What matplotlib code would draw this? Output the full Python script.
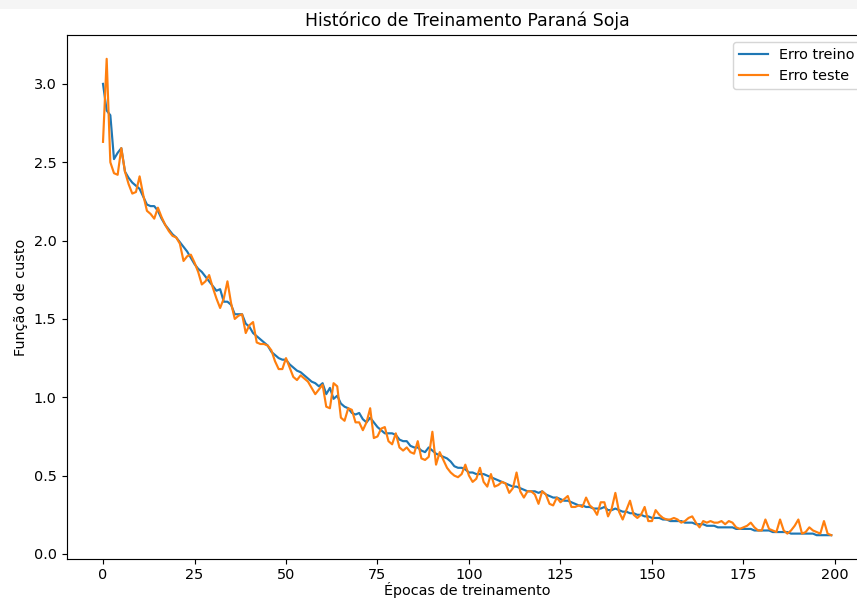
import numpy as np
import matplotlib
matplotlib.use('Agg')
import matplotlib.pyplot as plt
from matplotlib.patches import Rectangle

# Histórico de treinamento
erro_treino = [
    3.00, 2.83, 2.80, 2.52, 2.56, 2.59, 2.44, 2.40, 2.37, 2.35,
    2.33, 2.28, 2.23, 2.22, 2.22, 2.19, 2.14, 2.10, 2.07, 2.04,
    2.02, 1.99, 1.96, 1.93, 1.89, 1.85, 1.82, 1.80, 1.77, 1.74,
    1.71, 1.68, 1.69, 1.61, 1.61, 1.59, 1.53, 1.53, 1.53, 1.47,
    1.45, 1.41, 1.39, 1.37, 1.35, 1.33, 1.29, 1.27, 1.25, 1.24,
    1.24, 1.21, 1.19, 1.17, 1.16, 1.14, 1.12, 1.10, 1.09, 1.07,
    1.09, 1.02, 1.06, 0.99, 1.01, 0.96, 0.94, 0.93, 0.90, 0.89,
    0.90, 0.86, 0.84, 0.87, 0.84, 0.81, 0.79, 0.77, 0.77, 0.77,
    0.76, 0.73, 0.72, 0.72, 0.69, 0.68, 0.68, 0.66, 0.65, 0.68,
    0.66, 0.64, 0.63, 0.62, 0.61, 0.59, 0.56, 0.55, 0.55, 0.54,
    0.52, 0.52, 0.51, 0.51, 0.51, 0.50, 0.49, 0.48, 0.47, 0.46,
    0.45, 0.44, 0.43, 0.43, 0.42, 0.41, 0.40, 0.40, 0.40, 0.39,
    0.40, 0.38, 0.37, 0.36, 0.36, 0.35, 0.34, 0.34, 0.33, 0.32,
    0.31, 0.31, 0.30, 0.30, 0.29, 0.29, 0.29, 0.30, 0.28, 0.28,
    0.29, 0.28, 0.27, 0.27, 0.26, 0.26, 0.25, 0.25, 0.24, 0.24,
    0.23, 0.23, 0.23, 0.22, 0.22, 0.21, 0.21, 0.21, 0.21, 0.20,
    0.20, 0.20, 0.19, 0.19, 0.19, 0.18, 0.18, 0.18, 0.17, 0.17,
    0.17, 0.17, 0.17, 0.16, 0.16, 0.16, 0.16, 0.16, 0.15, 0.15,
    0.15, 0.15, 0.15, 0.14, 0.14, 0.14, 0.14, 0.14, 0.13, 0.13,
    0.13, 0.13, 0.13, 0.13, 0.13, 0.12, 0.12, 0.12, 0.12, 0.12,
]

erro_teste = [
    2.63, 3.16, 2.50, 2.43, 2.42, 2.59, 2.44, 2.36, 2.30, 2.31,
    2.41, 2.29, 2.19, 2.17, 2.14, 2.21, 2.15, 2.10, 2.06, 2.03,
    2.02, 1.98, 1.87, 1.90, 1.91, 1.86, 1.80, 1.72, 1.74, 1.78,
    1.70, 1.63, 1.57, 1.63, 1.74, 1.60, 1.50, 1.52, 1.53, 1.41,
    1.46, 1.48, 1.35, 1.34, 1.34, 1.33, 1.30, 1.23, 1.18, 1.18,
    1.25, 1.19, 1.13, 1.11, 1.14, 1.12, 1.10, 1.06, 1.02, 1.05,
    1.08, 0.94, 0.93, 1.09, 1.07, 0.87, 0.85, 0.93, 0.92, 0.84,
    0.84, 0.79, 0.84, 0.93, 0.74, 0.75, 0.80, 0.81, 0.72, 0.70,
    0.77, 0.68, 0.66, 0.68, 0.65, 0.64, 0.72, 0.61, 0.60, 0.62,
    0.78, 0.57, 0.65, 0.60, 0.55, 0.52, 0.50, 0.49, 0.51, 0.57,
    0.50, 0.46, 0.48, 0.55, 0.46, 0.43, 0.51, 0.43, 0.44, 0.46,
    0.45, 0.39, 0.42, 0.52, 0.40, 0.36, 0.40, 0.40, 0.38, 0.32,
    0.40, 0.38, 0.32, 0.31, 0.36, 0.33, 0.35, 0.37, 0.30, 0.30,
    0.31, 0.30, 0.36, 0.31, 0.29, 0.25, 0.33, 0.33, 0.24, 0.29,
    0.39, 0.27, 0.22, 0.28, 0.34, 0.25, 0.23, 0.25, 0.30, 0.21,
    0.21, 0.28, 0.25, 0.23, 0.22, 0.22, 0.23, 0.22, 0.20, 0.21,
    0.23, 0.24, 0.20, 0.17, 0.21, 0.20, 0.21, 0.20, 0.20, 0.21,
    0.19, 0.21, 0.20, 0.17, 0.16, 0.17, 0.18, 0.20, 0.17, 0.15,
    0.15, 0.22, 0.16, 0.15, 0.14, 0.22, 0.15, 0.13, 0.15, 0.18,
    0.22, 0.13, 0.14, 0.17, 0.15, 0.14, 0.13, 0.21, 0.13, 0.12,
]

epocas = np.arange(len(erro_treino))

W, H = 857, 599
DPI = 103.68  # captura ampliada ~1.44x
fig = plt.figure(figsize=(W / DPI, H / DPI), dpi=DPI)

# faixa cinza clara no topo da captura
fig.patches.append(Rectangle((0, 1 - 9 / H), 1, 9 / H, transform=fig.transFigure,
                             facecolor='#f5f5f5', edgecolor='none', zorder=-1))

# eixo se estende além da borda direita (captura cortada)
left, right, top, bottom = 66.6, 867.7, 35, 559
ax = fig.add_axes([left / W, (H - bottom) / H, (right - left) / W, (bottom - top) / H])

ax.plot(epocas, erro_treino, color='#1f77b4', linewidth=1.5, label='Erro treino')
ax.plot(epocas, erro_teste, color='#ff7f0e', linewidth=1.5, label='Erro teste')

ax.set_title('Histórico de Treinamento Paraná Soja', fontsize=12)
ax.set_xlabel('Épocas de treinamento', fontsize=10, labelpad=0.5)
ax.set_ylabel('Função de custo', fontsize=10)
ax.set_xticks([0, 25, 50, 75, 100, 125, 150, 175, 200])
ax.set_yticks([0.0, 0.5, 1.0, 1.5, 2.0, 2.5, 3.0])
ax.tick_params(labelsize=10)
ax.tick_params(axis='x', pad=2.5)
ax.legend(loc='upper right', fontsize=10)

fig.savefig('out.png', dpi=DPI)
